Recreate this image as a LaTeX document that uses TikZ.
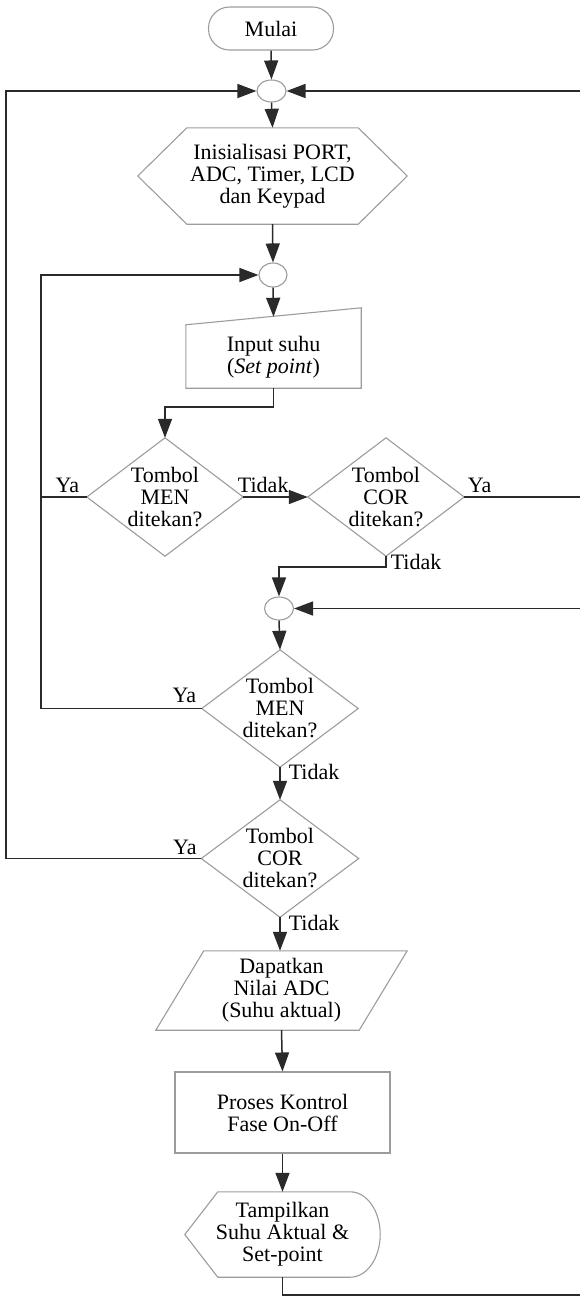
\documentclass[tikz,border=0pt]{standalone}
\usepackage{fontspec}
\setmainfont{Liberation Serif}
\usepackage{tikz}
\usetikzlibrary{arrows.meta,shapes.geometric}

\definecolor{edgegray}{HTML}{9C9C9C}
\definecolor{linegray}{HTML}{2A2A2A}

\tikzset{
	outline/.style={draw=edgegray, line width=1.1pt},
	frame/.style={inner sep=0pt, align=center},
	term/.style={frame, outline, rounded corners=21pt},
	proc/.style={frame, outline},
	junction/.style={ellipse, outline, inner sep=0pt},
	flow/.style={draw=linegray, line width=1.5pt},
	lbl/.style={inner sep=0pt},
}

\begin{document}
\begin{tikzpicture}[x=1pt,y=-1pt,>={Triangle[length=19pt,width=14pt]},font=\fontsize{22}{22}\selectfont]
					\useasboundingbox (0,0) rectangle (580,1296);

					\coordinate (railL) at (6,0);
					\coordinate (railM) at (41,0);
					\coordinate (railR) at (582,0);
					\coordinate (railB) at (0,1295);

					\node (start) [term, minimum width=125pt, minimum height=43pt] at (271,28.5) {Mulai};
					\node (j1) [junction, minimum width=29pt, minimum height=22pt] at (271.5,91) {};
					\node (init) [frame, minimum width=269pt, minimum height=96pt] at (272.5,176) {Inisialisasi PORT,\\ADC, Timer, LCD\\dan Keypad};
					\node (j2) [junction, minimum width=28pt, minimum height=24pt] at (273,275) {};
					\node (input) [frame, minimum width=175pt, minimum height=62pt] at (273.5,357) {Input suhu\\(\textit{Set point})};
					\node (d1) [frame, minimum width=156pt, minimum height=118pt] at (165,497) {Tombol\\MEN\\ditekan?};
					\node (d2) [frame, minimum width=156pt, minimum height=118pt] at (386,497) {Tombol\\COR\\ditekan?};
					\node (j3) [junction, minimum width=29pt, minimum height=23pt] at (279,608.5) {};
					\node (d3) [frame, minimum width=156pt, minimum height=117pt] at (280,708.5) {Tombol\\MEN\\ditekan?};
					\node (d4) [frame, minimum width=157pt, minimum height=117pt] at (280,858.5) {Tombol\\COR\\ditekan?};
					\node (adc) [frame, minimum width=251pt, minimum height=79pt] at (281.5,990.5) {Dapatkan\\Nilai ADC\\(Suhu aktual)};
					\node (ctrl) [proc, minimum width=215pt, minimum height=81pt] at (282.5,1112.5) {Proses Kontrol\\Fase On-Off};
					\node (disp) [frame, minimum width=195pt, minimum height=85pt] at (282.5,1234.5) {Tampilkan\\Suhu Aktual \&\\Set-point};

					\draw[outline] (init.west) -- ([xshift=49pt]init.north west) -- ([xshift=-49pt]init.north east) -- (init.east)
						-- ([xshift=-49pt]init.south east) -- ([xshift=49pt]init.south west) -- cycle;
					\draw[outline] (input.south west) -- (input.south east) -- ([yshift=18pt]input.north east) -- ([yshift=1pt]input.north west) -- cycle;
					\foreach \d in {d1,d2,d3,d4}
						\draw[outline] (\d.north) -- (\d.east) -- (\d.south) -- (\d.west) -- cycle;
					\draw[outline] (adc.south west) -- ([xshift=-48pt]adc.south east) -- (adc.north east) -- ([xshift=48pt]adc.north west) -- cycle;
					\draw[outline] (disp.west) -- ([xshift=33pt]disp.north west) -- ([xshift=-30pt]disp.north east)
						.. controls ([xshift=-13.4pt]disp.north east) and ([yshift=-19pt]disp.north east) .. (disp.east)
						.. controls ([yshift=19pt]disp.south east) and ([xshift=-13.4pt]disp.south east) .. ([xshift=-30pt]disp.south east)
						-- ([xshift=33pt]disp.south west) -- cycle;

					\draw[flow,->] (start.south) -- (j1.north);
					\draw[flow,->] (j1.south) -- (init.north);
					\draw[flow,->] (init.south) -- (j2.north);
					\draw[flow,->] (j2.south) -- ([yshift=9pt]input.north);
					\draw[flow,->] (input.south) -- ++(0,19) -| (d1.north);
					\draw[flow,->] (d1.east) node[lbl, anchor=south west, xshift=-6pt, yshift=4pt] {Tidak} -- (d2.west);
					\draw[flow] (d1.west) node[lbl, anchor=south east, xshift=-7pt, yshift=4pt] {Ya} -- (d1.west -| railM);
					\draw[flow,->] (d2.east) node[lbl, anchor=south west, xshift=3pt, yshift=4pt] {Ya} -- (d2.east -| railR) |- (j3.east);
					\draw[flow,->] (d2.south) node[lbl, anchor=west, xshift=4pt, yshift=-6pt] {Tidak} -- ++(0,11) -| (j3.north);
					\draw[flow,->] (j3.south) -- (d3.north);
					\draw[flow,->] (d3.west) node[lbl, anchor=south east, xshift=-5pt, yshift=5pt] {Ya} -- (d3.west -| railM) |- (j2.west);
					\draw[flow,->] (d3.south) node[lbl, anchor=west, xshift=8pt, yshift=-5pt] {Tidak} -- (d4.north);
					\draw[flow,->] (d4.west) node[lbl, anchor=south east, xshift=-4pt, yshift=3.5pt] {Ya} -- (d4.west -| railL) |- (j1.west);
					\draw[flow,->] (d4.south) node[lbl, anchor=west, xshift=8pt, yshift=-6pt] {Tidak} -- (d4.south |- adc.north);
					\draw[flow,->] (adc.south) -- (ctrl.north);
					\draw[flow,->] (ctrl.south) -- (disp.north);
					\draw[flow,->] (disp.south) |- (railR |- railB) |- (j1.east);
				\end{tikzpicture}
\end{document}
